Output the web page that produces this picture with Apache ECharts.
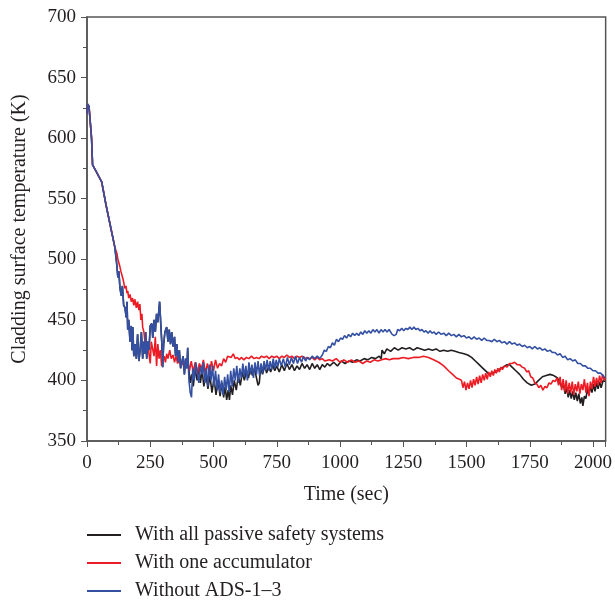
<!DOCTYPE html>
<html>
<head>
<meta charset="utf-8">
<script src="https://cdn.jsdelivr.net/npm/echarts@6/dist/echarts.min.js"></script>
<style>
  html, body { margin: 0; padding: 0; background: #fff; }
  #chart { width: 615px; height: 603px; }
</style>
</head>
<body>
<div id="chart"></div>
<script>
// [time (s), temperature (K)]
const startData = [[0,620],[3,628],[8,626],[15,625],[18,600],[22,578],[35,573],[58,564],[75,545],[95,525],[110,510]];

const blueData = [[117,497],[122,485],[126,490],[130,477],[135,470],[140,478],[145,462],[150,460],[155,452],[158,465],[161,442],[165,450],[170,432],[175,445],[178,425],[181,444],[185,420],[190,430],[195,418],[200,438],[205,416],[210,425],[215,440],[220,418],[225,432],[228,422],[232,440],[236,418],[240,432],[245,425],[250,445],[256,447],[260,435],[265,450],[270,440],[275,455],[280,448],[287,465],[292,445],[296,430],[299,411],[303,430],[308,440],[315,444],[320,432],[325,442],[330,430],[335,440],[340,428],[346,436],[350,420],[355,430],[360,415],[365,425],[370,410],[374,414],[380,420],[385,405],[390,418],[395,410],[398,427],[403,400],[408,390],[413,386],[418,410],[424,400],[430,415],[437,414],[442,398],[448,412],[455,405],[460,415],[466,398],[472,410],[478,395],[484,413],[490,400],[496,412],[502,395],[508,408],[515,392],[520,405],[526,390],[532,400],[538,388],[544,403],[550,392],[556,405],[562,390],[568,408],[574,395],[580,410],[586,400],[592,412],[598,398],[604,410],[610,402],[616,414],[622,403],[628,412],[634,400],[640,415],[646,405],[652,413],[658,402],[664,415],[670,405],[676,416],[682,404],[688,414],[694,406],[700,416],[706,408],[712,417],[718,408],[724,416],[730,409],[736,418],[742,410],[748,417],[754,411],[760,418],[768,412],[776,418],[784,411],[792,419],[800,413],[808,419],[816,414],[824,420],[832,414],[840,419],[848,415],[856,420],[864,416],[872,419],[880,417],[890,420],[900,418],[910,420],[920,418],[930,421],[938,425],[946,424],[954,428],[962,427],[970,431],[978,429],[986,434],[994,432],[1002,435],[1010,434],[1018,437],[1026,435],[1034,438],[1042,436],[1050,439],[1058,437],[1066,439],[1074,437],[1082,440],[1090,438],[1098,441],[1106,439],[1114,441],[1122,439],[1130,442],[1138,440],[1146,442],[1154,439],[1162,442],[1170,440],[1178,442],[1186,440],[1194,442],[1200,441],[1206,438],[1214,437],[1222,438],[1228,442],[1236,441],[1244,443],[1252,441],[1260,443],[1268,442],[1276,444],[1284,442],[1292,444],[1300,442],[1308,443],[1316,441],[1324,442],[1332,440],[1340,441],[1348,439],[1356,441],[1364,439],[1372,440],[1380,438],[1390,440],[1400,438],[1410,439],[1420,437],[1430,439],[1440,437],[1450,438],[1460,436],[1470,438],[1480,436],[1490,437],[1500,435],[1510,436],[1520,434],[1530,436],[1540,434],[1550,435],[1560,433],[1570,435],[1580,433],[1590,433],[1600,432],[1610,434],[1620,432],[1630,433],[1640,431],[1650,432],[1660,430],[1670,432],[1680,430],[1690,431],[1700,429],[1710,430],[1720,428],[1730,429],[1740,427],[1750,428],[1760,426],[1770,428],[1780,426],[1790,427],[1800,425],[1810,426],[1820,424],[1830,425],[1840,423],[1850,423],[1860,421],[1870,422],[1880,419],[1890,420],[1900,417],[1910,418],[1920,416],[1930,417],[1940,414],[1950,414],[1960,412],[1970,412],[1980,410],[1990,410],[2000,408],[2010,408],[2020,406],[2030,406],[2040,404],[2046,402]];

const blackData = [[400,415],[408,398],[414,405],[420,395],[428,410],[435,400],[442,412],[448,398],[455,408],[462,395],[470,406],[478,393],[486,404],[494,390],[502,402],[510,388],[518,400],[526,387],[534,398],[540,386],[546,395],[552,384],[558,392],[563,384],[568,396],[575,388],[582,400],[590,392],[598,404],[606,396],[614,407],[622,400],[630,408],[638,402],[646,410],[654,404],[662,410],[670,402],[676,396],[681,398],[686,410],[694,405],[702,412],[710,406],[718,412],[726,407],[734,413],[742,408],[750,412],[760,407],[770,413],[780,408],[790,414],[800,409],[810,413],[820,408],[830,412],[840,409],[850,414],[860,410],[870,413],[880,409],[890,414],[900,410],[910,413],[920,409],[930,413],[940,411],[950,414],[960,412],[975,415],[990,412],[1005,416],[1020,414],[1035,416],[1050,415],[1065,417],[1080,416],[1095,418],[1110,417],[1125,419],[1140,418],[1155,420],[1163,418],[1166,425],[1175,422],[1185,426],[1200,424],[1215,427],[1230,425],[1245,427],[1260,426],[1275,427],[1290,425],[1305,427],[1320,426],[1335,425],[1350,426],[1365,425],[1380,426],[1395,424],[1410,425],[1425,424],[1440,425],[1455,424],[1470,423],[1490,422],[1505,421],[1520,419],[1535,416],[1550,413],[1565,410],[1580,407],[1590,405],[1600,406],[1615,407],[1630,409],[1645,411],[1660,413],[1670,413],[1680,411],[1695,408],[1710,405],[1725,401],[1740,398],[1756,396],[1770,397],[1785,400],[1800,403],[1815,404],[1830,405],[1845,404],[1860,402],[1866,399],[1872,400],[1878,394],[1884,396],[1890,389],[1896,394],[1902,386],[1908,392],[1914,385],[1920,391],[1926,384],[1932,390],[1938,383],[1944,389],[1950,381],[1956,386],[1960,379],[1966,387],[1972,385],[1978,393],[1984,388],[1990,395],[1996,390],[2002,397],[2008,391],[2014,398],[2020,393],[2026,399],[2032,394],[2040,400],[2048,399]];

const redData = [[118,505],[122,500],[126,497],[130,494],[134,490],[138,487],[142,484],[146,480],[150,476],[154,478],[158,472],[161,474],[165,468],[170,471],[175,465],[180,468],[185,462],[189,467],[195,460],[200,465],[205,458],[209,463],[213,450],[217,455],[220,444],[225,440],[230,430],[236,425],[240,432],[245,422],[250,414],[254,432],[260,431],[265,420],[270,436],[275,412],[280,430],[285,418],[290,425],[295,412],[299,411],[305,420],[310,415],[315,422],[320,418],[327,425],[333,418],[340,421],[346,415],[352,420],[358,414],[366,417],[372,411],[380,416],[388,412],[398,414],[405,408],[412,416],[420,407],[428,415],[436,405],[444,414],[453,410],[460,417],[468,406],[476,414],[484,405],[492,416],[500,408],[508,417],[516,410],[524,414],[532,412],[540,418],[548,415],[556,420],[563,421],[570,419],[578,422],[586,418],[594,419],[602,417],[610,419],[620,417],[630,419],[640,418],[650,420],[660,418],[670,419],[680,418],[690,420],[700,419],[710,420],[720,418],[730,420],[740,419],[750,420],[760,418],[770,420],[780,419],[790,421],[800,419],[810,420],[820,418],[830,420],[840,419],[850,420],[860,418],[870,419],[880,418],[890,419],[900,417],[910,419],[920,417],[930,418],[940,416],[957,417],[970,416],[985,418],[1000,415],[1015,417],[1030,415],[1045,417],[1060,415],[1075,416],[1090,414],[1105,416],[1120,415],[1135,417],[1150,416],[1165,417],[1180,418],[1195,417],[1210,418],[1232,418],[1250,419],[1270,418],[1290,419],[1311,419],[1330,420],[1350,419],[1370,417],[1390,415],[1410,412],[1429,408],[1445,405],[1460,402],[1472,401],[1480,400],[1486,394],[1492,399],[1498,392],[1504,398],[1510,393],[1516,400],[1522,394],[1528,401],[1534,396],[1540,403],[1546,397],[1552,404],[1558,398],[1564,405],[1570,400],[1576,406],[1582,401],[1588,407],[1594,403],[1600,408],[1606,404],[1612,409],[1618,406],[1624,410],[1630,407],[1636,411],[1642,409],[1650,412],[1660,411],[1670,414],[1680,414],[1690,415],[1700,413],[1710,413],[1720,411],[1730,410],[1738,407],[1746,408],[1754,403],[1762,402],[1770,398],[1778,397],[1786,394],[1794,396],[1802,392],[1810,395],[1818,394],[1826,398],[1834,397],[1842,400],[1850,399],[1858,402],[1864,396],[1870,403],[1876,392],[1882,401],[1888,391],[1894,400],[1900,389],[1906,398],[1912,390],[1918,399],[1924,388],[1930,397],[1936,391],[1942,399],[1948,389],[1954,397],[1960,392],[1966,401],[1972,390],[1978,398],[1984,387],[1990,399],[1996,393],[2002,403],[2008,395],[2014,402],[2020,396],[2026,404],[2032,398],[2038,405],[2044,400],[2048,403]];

const seriesNames = ['With all passive safety systems', 'With one accumulator', 'Without ADS-1\u20133'];
const seriesColors = ['#231f20', '#ed1c24', '#3450a2'];

// black follows the blue trace until ~400 s
const blackFull = startData.concat(blueData.filter(p => p[0] < 400), blackData);
const redFull = startData.concat(redData);
const blueFull = startData.concat(blueData);

const chart = echarts.init(document.getElementById('chart'));
const serif = '"Liberation Serif", "DejaVu Serif", serif';
const axisColor = '#555';
const textColor = '#231f20';

const option = {
  animation: false,
  grid: {
    left: 87, right: 7, top: 17, bottom: 162,
    show: true, borderColor: axisColor, borderWidth: 1.5
  },
  legend: {
    orient: 'vertical',
    left: 87,
    top: 525,
    padding: 0,
    itemWidth: 34,
    itemHeight: 2,
    itemGap: 8,
    icon: 'rect',
    textStyle: { fontFamily: serif, fontSize: 20, lineHeight: 20, color: textColor, padding: [0, 0, 0, 9] },
    data: seriesNames
  },
  xAxis: {
    type: 'value',
    min: 0, max: 2050, interval: 250,
    name: 'Time (sec)',
    nameLocation: 'middle',
    nameGap: 44,
    nameTextStyle: { fontFamily: serif, fontSize: 20, color: textColor },
    axisLine: { lineStyle: { color: axisColor, width: 1.5 } },
    axisTick: { length: 6, lineStyle: { color: axisColor } },
    minorTick: { show: true, splitNumber: 2, length: 4, lineStyle: { color: axisColor } },
    axisLabel: {
      fontFamily: serif, fontSize: 19, color: textColor, margin: 13, showMaxLabel: false,
      formatter: v => String(v)
    },
    splitLine: { show: false }
  },
  yAxis: {
    type: 'value',
    min: 350, max: 700, interval: 50,
    name: 'Cladding surface temperature (K)',
    nameLocation: 'middle',
    nameGap: 57,
    nameTextStyle: { fontFamily: serif, fontSize: 20, color: textColor },
    axisLine: { show: true, lineStyle: { color: axisColor, width: 1.5 } },
    axisTick: { show: true, length: 6, lineStyle: { color: axisColor } },
    minorTick: { show: true, splitNumber: 2, length: 4, lineStyle: { color: axisColor } },
    axisLabel: { fontFamily: serif, fontSize: 19, color: textColor, margin: 11 },
    splitLine: { show: false }
  },
  series: [
    { name: seriesNames[0], data: blackFull, color: seriesColors[0] },
    { name: seriesNames[1], data: redFull, color: seriesColors[1] },
    { name: seriesNames[2], data: blueFull, color: seriesColors[2] }
  ].map(s => Object.assign({
    type: 'line',
    showSymbol: false,
    lineStyle: { width: 1.6 }
  }, s))
};

chart.setOption(option);
</script>
</body>
</html>
